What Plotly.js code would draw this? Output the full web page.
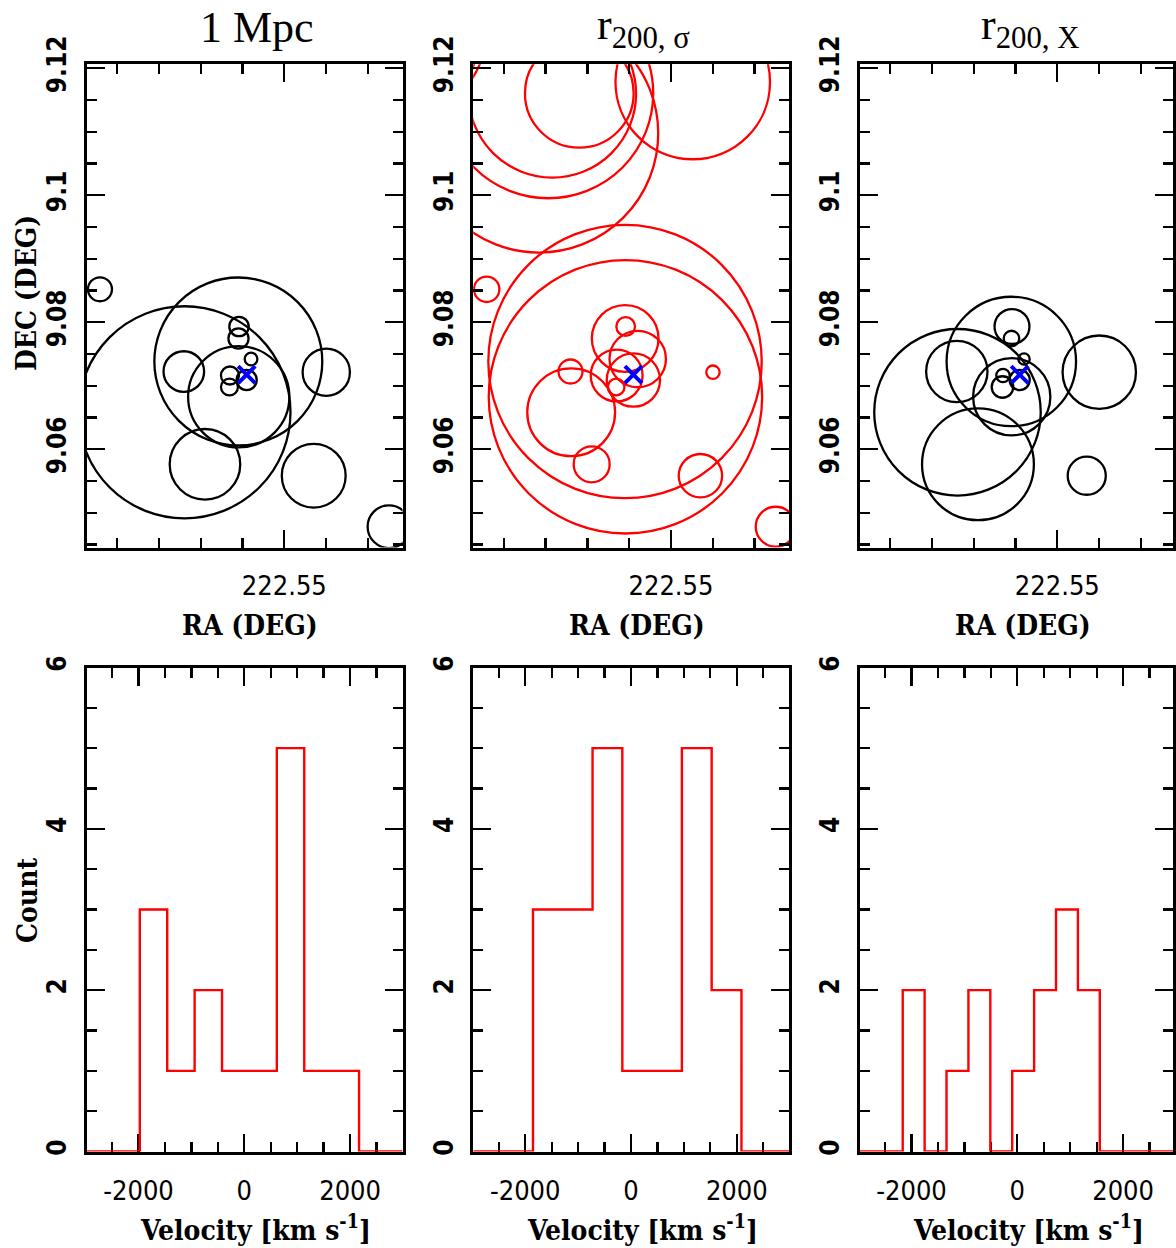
<!DOCTYPE html>
<html><head><meta charset="utf-8">
<script src="https://cdn.plot.ly/plotly-3.0.1.min.js"></script>
<style>html,body{margin:0;padding:0;background:#fff}#chart{width:1176px;height:1248px}</style>
</head><body><div id="chart"></div>
<script>
// ---------------- DATA ----------------
// Member galaxies (RA, DEC in degrees) shown in the top row
const galRA  = [222.57205, 222.56194, 222.55550, 222.55545, 222.56202, 222.54498, 222.55949, 222.54648, 222.53748, 222.55542, 222.55548, 222.55398, 222.55650, 222.55656, 222.55450];
const galDEC = [9.08520, 9.06583, 9.07383, 9.06827, 9.07225, 9.07214, 9.05764, 9.05584, 9.04781, 9.07934, 9.07745, 9.07422, 9.07162, 9.06981, 9.07091];
// circle radii (arcsec) per selection; null = not a member
const rad1Mpc   = [6.8, 60.1, 47.6, 28.7, 11.5, 13.4, 20.0, 18.1, 12.1, 5.5, 5.7, 3.6, 5.1, 4.8, 5.7];
const radSigma  = [7.2, 24.9, 77.5, 77.5, 6.8, 3.8, 10.2, 12.3, 11.3, 5.3, 18.9, 16.0, 14.7, 4.7, 15.1];
const radX      = [null, 47.2, 36.7, 21.9, 17.4, 20.8, 31.7, 10.8, null, 9.9, 4.4, 3.2, 3.8, 6.1, 5.7];
// extra r200,sigma members lying north of the field
const outRA     = [222.56097, 222.56420, 222.56468, 222.56579, 222.54740, 222.58262];
const outDEC    = [9.11606, 9.11598, 9.11606, 9.10976, 9.11784, 9.12603];
const outRadSig = [30.8, 47.5, 59.5, 67.6, 43.8, 50.1];
// cluster centre (blue cross)
const cenRA  = [222.55450];
const cenDEC = [9.07175];

// velocity histograms (bin edges in km/s, counts)
const edges1 = [-1975, -1457, -939, -421, 97, 615, 1133, 1651, 2169];
const counts1 = [3, 1, 2, 1, 1, 5, 1, 1];
const edges2 = [-1853, -1290, -727, -164, 399, 962, 1525, 2088];
const counts2 = [3, 3, 5, 1, 1, 5, 2];
const edges3 = [-2166, -1752, -1338, -924, -510, -96, 318, 732, 1146, 1560];
const counts3 = [2, 0, 1, 2, 0, 1, 2, 3, 2];

const panelTitles = ['1 Mpc', 'r<sub>200, σ</sub>', 'r<sub>200, X</sub>'];
const decTicks = [9.06, 9.08, 9.1, 9.12];
const decTickText = ['9.06', '9.08', '9.1', '9.12'];
const velTicks = [-2000, 0, 2000];
const velTickText = ['-2000', '0', '2000'];
const cntTicks = [0, 2, 4, 6];
const cntTickText = ['0', '2', '4', '6'];

// ---------------- LAYOUT ----------------
const W = 1176, H = 1248;
const pL = [86.5, 473.2, 859.5];
const pR = [402.5, 789.2, 1173.2];
const topPx = [64.2, 547.5];
const botPx = [667.5, 1151.5];
const RA_PX = 8360, DEC_PX = 6350;      // pixels per degree
const RA_OFF = 197.8;                  // px from panel left where RA=222.55
const VEL_PX = 0.0529, VEL_OFF = 157.8; // px per km/s, px from left where v=0
const DEC_TOP = 9.12 + (68.3 - topPx[0]) / DEC_PX;
const DEC_BOT = DEC_TOP - (topPx[1] - topPx[0]) / DEC_PX;

const tickFont = {family: "'Liberation Sans Narrow','Arial Narrow','DejaVu Sans Condensed',sans-serif", size: 27, color: '#000'};
const yTickFont = {family: "'Liberation Sans Narrow','Arial Narrow','DejaVu Sans Condensed',sans-serif", size: 26, color: '#000', weight: 'bold'};
const labFont = {family: "'DejaVu Serif Condensed','DejaVu Serif',serif", size: 28, color: '#000', weight: 'bold'};
const titFont = {family: "'Liberation Serif','DejaVu Serif',serif", size: 44, color: '#000'};

function base(extra) {
  return Object.assign({
    showline: true, linecolor: '#000', linewidth: 3, mirror: 'ticks',
    ticks: 'inside', ticklen: 18, tickwidth: 2.3, tickcolor: '#000',
    showgrid: false, zeroline: false, fixedrange: true, layer: 'below traces',
    tickfont: tickFont,
    minor: {ticks: 'inside', ticklen: 10, tickwidth: 2.3, tickcolor: '#000', showgrid: false}
  }, extra);
}

const layout = {
  width: W, height: H, margin: {l: 0, r: 0, t: 0, b: 0},
  paper_bgcolor: '#fff', plot_bgcolor: '#fff', showlegend: false,
  shapes: [], annotations: []
};

const data = [];
const radSets = [rad1Mpc, radSigma, radX];
const colors = ['#000000', '#ff0000', '#000000'];
const hists = [[edges1, counts1], [edges2, counts2], [edges3, counts3]];

for (let i = 0; i < 3; i++) {
  const wpx = pR[i] - pL[i];
  const xd = [pL[i] / W, pR[i] / W];
  const nt = i + 1, nb = i + 4;
  const sfx = n => (n === 1 ? '' : String(n));
  const raL = 222.55 + RA_OFF / RA_PX;
  const raR = raL - wpx / RA_PX;
  layout['xaxis' + sfx(nt)] = base({
    domain: xd, anchor: 'y' + sfx(nt), range: [raL, raR],
    tick0: 222.55, dtick: 0.05, ticklabelstandoff: 12,
    minor: {ticks: 'inside', ticklen: 10, tickwidth: 2.3, tickcolor: '#000', dtick: 0.005, tick0: 222.55}
  });
  layout['yaxis' + sfx(nt)] = base({
    domain: [1 - topPx[1] / H, 1 - topPx[0] / H], anchor: 'x' + sfx(nt),
    range: [DEC_BOT, DEC_TOP], tickmode: 'array', tickvals: decTicks, ticktext: decTickText,
    tickangle: -90, ticklabelstandoff: 7, tickfont: yTickFont,
    minor: {ticks: 'inside', ticklen: 10, tickwidth: 2.3, tickcolor: '#000', dtick: 0.005, tick0: 9.06}
  });
  const vL = -VEL_OFF / VEL_PX, vR = vL + wpx / VEL_PX;
  layout['xaxis' + sfx(nb)] = base({
    domain: xd, anchor: 'y' + sfx(nb), range: [vL, vR],
    tickmode: 'array', tickvals: velTicks, ticktext: velTickText, ticklabelstandoff: 13,
    minor: {ticks: 'inside', ticklen: 10, tickwidth: 2.3, tickcolor: '#000', dtick: 500, tick0: 0}
  });
  layout['yaxis' + sfx(nb)] = base({
    domain: [1 - botPx[1] / H, 1 - botPx[0] / H], anchor: 'x' + sfx(nb),
    range: [0, 6], tickmode: 'array', tickvals: cntTicks, ticktext: cntTickText,
    tickangle: -90, ticklabelstandoff: 7, tickfont: yTickFont,
    minor: {ticks: 'inside', ticklen: 10, tickwidth: 2.3, tickcolor: '#000', dtick: 0.5, tick0: 0}
  });

  // circles
  const k = DEC_PX / RA_PX;
  const addCircle = (ra, dec, rArc) => {
    if (rArc == null) return;
    const r = rArc / 3600;
    layout.shapes.push({
      type: 'circle', layer: 'below', xref: 'x' + sfx(nt), yref: 'y' + sfx(nt),
      x0: ra - r * k, x1: ra + r * k, y0: dec - r, y1: dec + r,
      line: {color: colors[i], width: 2.3}, fillcolor: 'rgba(0,0,0,0)'
    });
  };
  const rs = radSets[i];
  for (let g = 0; g < galRA.length; g++) addCircle(galRA[g], galDEC[g], rs[g]);
  if (i === 1) for (let g = 0; g < outRA.length; g++) addCircle(outRA[g], outDEC[g], outRadSig[g]);

  data.push({
    type: 'scatter', mode: 'markers', x: cenRA, y: cenDEC,
    xaxis: 'x' + sfx(nt), yaxis: 'y' + sfx(nt), hoverinfo: 'skip',
    marker: {symbol: 'x-thin', size: 17, line: {width: 4, color: '#0000ff'}, color: '#0000ff'}
  });

  // histogram outline
  const [ed, ct] = hists[i];
  data.push({
    type: 'scatter', mode: 'lines', line: {shape: 'hv', color: '#ff0000', width: 2.4},
    x: [vL].concat(ed, [vR]), y: [0].concat(ct, [0, 0]),
    xaxis: 'x' + sfx(nb), yaxis: 'y' + sfx(nb), cliponaxis: false, hoverinfo: 'skip'
  });

  // labels
  const titleX = [257, 643, 1030][i];
  layout.annotations.push({xref: 'paper', yref: 'paper', x: titleX / W, y: 1 - 27 / H,
    text: panelTitles[i], showarrow: false, font: titFont, xanchor: 'center', yanchor: 'middle'});
  const raLabX = [250, 637, 1023][i];
  layout.annotations.push({xref: 'paper', yref: 'paper', x: raLabX / W, y: 1 - 625 / H,
    text: 'RA (DEG)', showarrow: false, font: labFont, xanchor: 'center', yanchor: 'middle'});
  const velLabX = [255, 642, 1028][i];
  layout.annotations.push({xref: 'paper', yref: 'paper', x: velLabX / W, y: 1 - 1228 / H,
    text: 'Velocity [km s<sup>-1</sup>]', showarrow: false, font: labFont, xanchor: 'center', yanchor: 'middle'});
}
layout.annotations.push({xref: 'paper', yref: 'paper', x: 27 / W, y: 1 - 293 / H, textangle: -90,
  text: 'DEC (DEG)', showarrow: false, font: labFont, xanchor: 'center', yanchor: 'middle'});
layout.annotations.push({xref: 'paper', yref: 'paper', x: 27 / W, y: 1 - 900 / H, textangle: -90,
  text: 'Count', showarrow: false, font: labFont, xanchor: 'center', yanchor: 'middle'});

Plotly.newPlot('chart', data, layout, {staticPlot: true, displayModeBar: false});
</script>
</body></html>
